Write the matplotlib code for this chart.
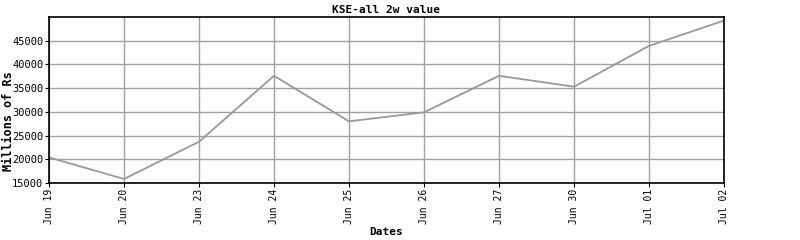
import numpy as np
import matplotlib
matplotlib.use("Agg")
import matplotlib.pyplot as plt

dates = ["Jun 19", "Jun 20", "Jun 23", "Jun 24", "Jun 25",
         "Jun 26", "Jun 27", "Jun 30", "Jul 01", "Jul 02"]
values = [20400, 15850, 23700, 37600, 28000,
          29900, 37600, 35300, 43900, 49250]
y_ticks = [15000, 20000, 25000, 30000, 35000, 40000, 45000]

plt.rcParams['font.family'] = ['DejaVu Sans Mono']

fig = plt.figure(figsize=(8, 2.4), dpi=100)
ax = fig.add_axes([0.06125, 0.2375, 0.84375, 0.6917])

x = np.arange(len(dates))
ax.plot(x, values, color='#999999', linewidth=1.3)

ax.set_xlim(0, len(dates) - 1)
ax.set_ylim(15000, 50000)
ax.set_xticks(x)
ax.set_xticklabels(dates, rotation=90, fontsize=7)
ax.set_yticks(y_ticks)
ax.set_yticklabels([str(v) for v in y_ticks], fontsize=7.5)
ax.tick_params(length=3, pad=1, width=0.8)

ax.grid(True, color='#a0a0a0', linewidth=1)
ax.set_axisbelow(True)
for s in ax.spines.values():
    s.set_linewidth(1.2)

ax.set_title('KSE-all 2w value', fontsize=8, fontweight='bold', pad=3)
ax.set_xlabel('Dates', fontsize=8, fontweight='bold', labelpad=2)
ax.set_ylabel('Millions of Rs', fontsize=8.5, fontweight='bold')
ax.yaxis.set_label_coords(-0.05, 0.37)

fig.savefig('out.png', dpi=100)
